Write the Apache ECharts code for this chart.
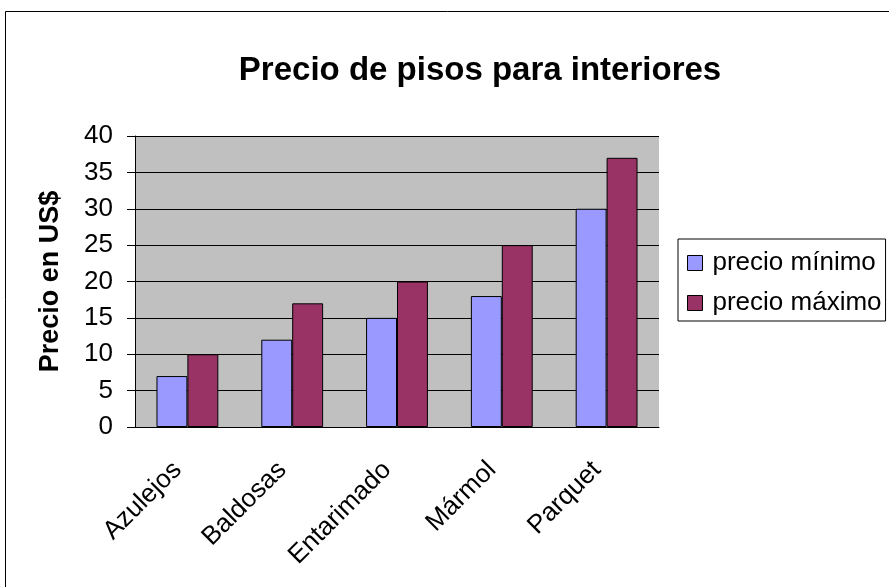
<!DOCTYPE html>
<html><head><meta charset="utf-8">
<script src="https://cdn.jsdelivr.net/npm/echarts@6/dist/echarts.min.js"></script>
<style>html,body{margin:0;padding:0;background:#fff}#c{width:889px;height:587px}</style>
</head><body><div id="c"></div>
<script>
const categories = ['Azulejos', 'Baldosas', 'Entarimado', 'Mármol', 'Parquet'];
const precioMinimo = [7, 12, 15, 18, 30];
const precioMaximo = [10, 17, 20, 25, 37];
const yTicks = [0, 5, 10, 15, 20, 25, 30, 35, 40];

const chart = echarts.init(document.getElementById('c'));
const F = '"Liberation Sans", Arial, sans-serif';
chart.setOption({
  animation: false,
  backgroundColor: '#fff',
  graphic: [{
    type: 'rect', shape: { x: 5.5, y: 11.5, width: 900, height: 600 },
    style: { fill: 'none', stroke: '#000', lineWidth: 1 }, silent: true, z: -1
  }],
  title: {
    text: 'Precio de pisos para interiores',
    left: 475, top: 49, textAlign: 'center',
    textStyle: { fontFamily: F, fontSize: 33, fontWeight: 'bold', color: '#000' }
  },
  legend: {
    left: 678, top: 239, orient: 'vertical',
    borderColor: '#000', borderWidth: 1, padding: [11, 4, 5, 9], itemGap: 14,
    itemWidth: 15, itemHeight: 15, icon: 'rect', backgroundColor: '#fff',
    textStyle: { fontFamily: F, fontSize: 26, lineHeight: 26, color: '#000', padding: [0, 0, 0, 5] },
    itemStyle: { borderColor: '#000', borderWidth: 1 }
  },
  grid: { left: 135, top: 136, width: 524, height: 291, backgroundColor: '#C0C0C0', show: true, borderWidth: 0 },
  xAxis: {
    type: 'category', data: categories,
    axisLine: { lineStyle: { color: '#000' } },
    axisTick: { lineStyle: { color: '#000' }, length: 8 },
    axisLabel: { rotate: 45, fontFamily: F, fontSize: 26, color: '#000', margin: 29, padding: [0, 14, 0, 0] }
  },
  yAxis: {
    type: 'value', min: yTicks[0], max: yTicks[yTicks.length - 1], interval: yTicks[1] - yTicks[0],
    name: 'Precio en US$', nameLocation: 'middle', nameGap: 71,
    nameTextStyle: { fontFamily: F, fontSize: 27, fontWeight: 'bold', color: '#000' },
    axisLine: { show: true, lineStyle: { color: '#000' } },
    axisTick: { show: true, length: 8, lineStyle: { color: '#000' } },
    axisLabel: { fontFamily: F, fontSize: 26, color: '#000', margin: 22 },
    splitLine: { lineStyle: { color: '#000' } }
  },
  series: [
    { name: 'precio mínimo', type: 'bar', data: precioMinimo, barGap: '0%', barCategoryGap: '41%',
      itemStyle: { color: '#9999FF', borderColor: '#000', borderWidth: 1 } },
    { name: 'precio máximo', type: 'bar', data: precioMaximo,
      itemStyle: { color: '#993366', borderColor: '#000', borderWidth: 1 } }
  ]
});
</script></body></html>
